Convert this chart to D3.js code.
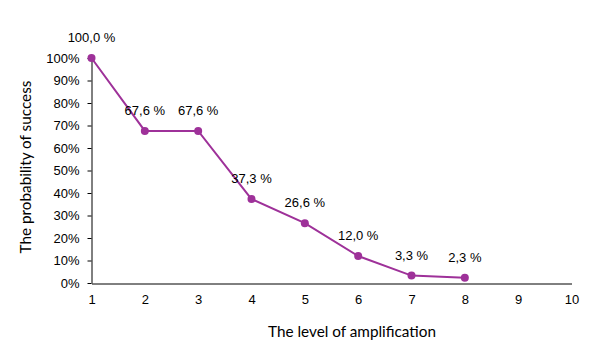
<!DOCTYPE html>
<html><head><meta charset="utf-8">
<script src="https://cdn.jsdelivr.net/npm/d3@7/dist/d3.min.js"></script>
<style>body{margin:0;background:#fff}svg{display:block}</style>
</head><body>
<script>
const levels = [1, 2, 3, 4, 5, 6, 7, 8];
const probability = [100.0, 67.6, 67.6, 37.3, 26.6, 12.0, 3.3, 2.3];
const pointLabels = ["100,0 %", "67,6 %", "67,6 %", "37,3 %", "26,6 %", "12,0 %", "3,3 %", "2,3 %"];
const xTicks = [1, 2, 3, 4, 5, 6, 7, 8, 9, 10];
const yTicks = [0, 10, 20, 30, 40, 50, 60, 70, 80, 90, 100];
const xTitle = "The level of amplification";
const yTitle = "The probability of success";

const W = 598, H = 357;
const color = "#9E3199";
const svg = d3.select("body").append("svg").attr("width", W).attr("height", H);
const x = d3.scaleLinear().domain([1, 10]).range([91.5, 571.5]);
const y = d3.scaleLinear().domain([0, 100]).range([283, 58]);
const font = "'Liberation Sans', Arial, sans-serif";

// y axis
const ya = svg.append("g").attr("transform", "translate(91.5,0)")
  .call(d3.axisLeft(y).tickValues(yTicks).tickFormat(d => d + "%").tickSize(4).tickSizeOuter(0).tickPadding(8));
ya.select(".domain").attr("stroke", "#000");
ya.selectAll(".tick line").attr("stroke", "#000");
ya.selectAll("text").attr("font-family", font).attr("font-size", 13).attr("fill", "#000");

// x axis
const xa = svg.append("g").attr("transform", "translate(0,283.5)")
  .call(d3.axisBottom(x).tickValues(xTicks).tickFormat(d3.format("d")).tickSize(0).tickPadding(11));
xa.select(".domain").attr("stroke", "#000");
xa.selectAll("text").attr("font-family", font).attr("font-size", 13).attr("fill", "#000");

const data = levels.map((l, i) => ({l, v: probability[i], t: pointLabels[i]}));
svg.append("path").datum(data)
  .attr("fill", "none").attr("stroke", color).attr("stroke-width", 2)
  .attr("d", d3.line().x(d => x(d.l)).y(d => y(d.v)));
svg.selectAll("circle.pt").data(data).enter().append("circle")
  .attr("cx", d => x(d.l)).attr("cy", d => y(d.v)).attr("r", 4).attr("fill", color);
svg.selectAll("text.lbl").data(data).enter().append("text")
  .attr("x", d => x(d.l)).attr("y", d => y(d.v) - 16)
  .attr("text-anchor", "middle").attr("font-family", font).attr("font-size", 13).attr("fill", "#000")
  .text(d => d.t);

svg.append("text").attr("x", 352).attr("y", 337).attr("text-anchor", "middle")
  .attr("font-family", "Lato, 'Open Sans', sans-serif").attr("font-size", 15.3).attr("fill", "#000").text(xTitle);
svg.append("text").attr("transform", "translate(31,167) rotate(-90)").attr("text-anchor", "middle")
  .attr("font-family", "Lato, 'Open Sans', sans-serif").attr("font-size", 15.3).attr("fill", "#000").text(yTitle);
</script>
</body></html>
